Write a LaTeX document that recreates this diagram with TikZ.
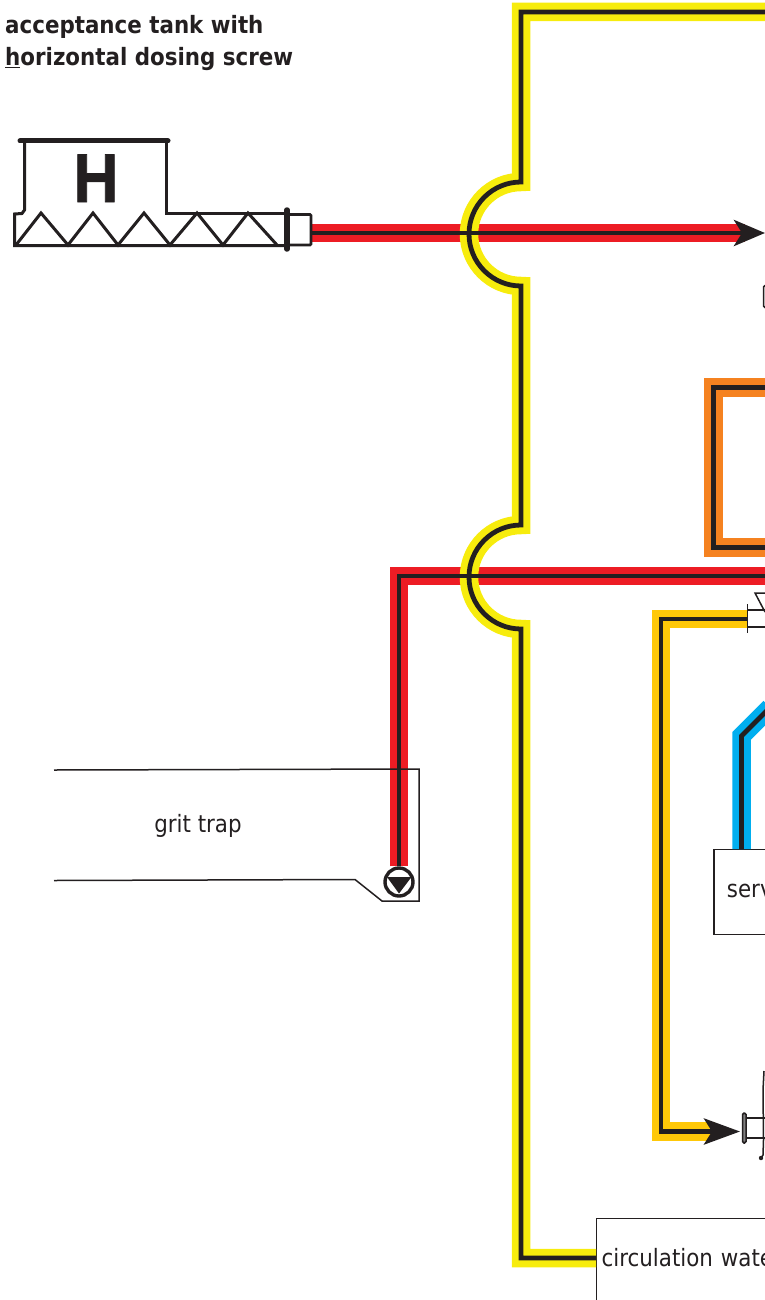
\documentclass[tikz,border=0pt]{standalone}
\usepackage{fontspec}
\setmainfont{DejaVu Sans}[FakeStretch=0.895]
\newfontfamily\tankfont{Liberation Sans}[FakeStretch=0.9, FakeBold=1.2]
\usepackage{xcolor}
\usetikzlibrary{arrows.meta, positioning, calc}
\definecolor{pipeyellow}{HTML}{F7EC0D}
\definecolor{pipered}{HTML}{ED1C24}
\definecolor{pipegold}{HTML}{FFC808}
\definecolor{pipeorange}{HTML}{F58220}
\definecolor{pipeblue}{HTML}{00AEEF}
\definecolor{inkblack}{HTML}{231F20}
%% pipe routes
\newcommand{\yellowroute}{(765,12) -- (521,12) -- (521,182)
  arc[start angle=90, end angle=270, radius=52pt] -- (521,525)
  arc[start angle=90, end angle=270, radius=52pt] -- (521,1258) -- (yellowend)}
\newcommand{\redtoproute}{(tankout) -- (redtip)}
\newcommand{\redlowroute}{(pump.north) -- (399,576) -- (765,576)}
\newcommand{\orangeroute}{(765,387.5) -- (713.5,387.5) -- (713.5,547.5) -- (765,547.5)}
\newcommand{\blueroute}{(bluestart) -- (741.5,736) -- (770,707.5)}

\begin{document}
\begin{tikzpicture}[
  x=1pt, y=-1pt,
  every node/.style={font=\fontsize{23.9}{28}\selectfont, text=inkblack},
  pipe/.style={line width=18.5pt},
  core/.style={line width=4.8pt, draw=inkblack},
  tankln/.style={draw=inkblack, line width=3pt},
  thin ln/.style={draw=inkblack, line width=1.5pt},
  box/.style={draw=inkblack, line width=1.2pt, anchor=north west, align=left},
  title/.style={anchor=base west, font=\fontsize{23.9}{28}\selectfont\bfseries},
  tip/.style={-{Stealth[length=#1, width=26pt, inset=8pt]}}
]
\useasboundingbox (0,0) rectangle (765,1300);
\clip (0,0) rectangle (765,1300);

%% titles
\node[title, inner sep=0pt] (title1) at (5,33.5) {acceptance tank with};
\node[title, inner sep=0pt] (title2) at (5,65.5) {\underline{h}orizontal dosing screw};

%% named ends
\coordinate (tankout) at (312,233);
\coordinate (redtip) at (765,233);
\coordinate (yellowend) at (596,1258);
\coordinate (flangetop) at (747.5,619);
\coordinate (goldtip) at (740,1131.5);
\coordinate (bluestart) at (741.5,849);

%% boxes
\node[box, text width=80pt, minimum height=85pt, inner xsep=13pt, text depth=2pt] (servbox) at (713.3,849) {serv};
\node[box, text width=190pt, minimum height=84pt, inner xsep=5pt, text depth=6pt] (circbox) at (596,1218) {circulation wate};
\node[circle, draw=inkblack, line width=3.4pt, minimum size=28pt, inner sep=0pt] (pump) at (399,882) {};
\fill[inkblack] (387,877) -- (411.5,877) -- (399,893.5) -- cycle;

%% red under the yellow
\draw[pipe, pipered] (tankout) -- (745,233);
\draw[pipe, pipered] \redlowroute;

%% grit trap
\draw[thin ln] (54,770) -- (419,769) -- (419,901) -- (382,901) -- (355,879.5) -- (54,880.5);
\node (grittext) at (198,826) {grit trap};

%% yellow with its crossings
\draw[pipe, pipeyellow] \yellowroute;
\draw[core] \yellowroute;

%% black of the red lines
\draw[core, tip=31pt] \redtoproute;
\draw[core] \redlowroute;

%% other pipes
\draw[pipe, pipeorange] \orangeroute;
\draw[core] \orangeroute;
\draw[pipe, pipeblue] \blueroute;
\draw[core] \blueroute;
\draw[pipe, pipegold] (flangetop) -- (661,619) -- (661,1131.5) -- (715,1131.5);
\draw[core, tip=36pt] (flangetop) -- (661,619) -- (661,1131.5) -- (goldtip);

%% acceptance tank
\draw[inkblack, line width=5pt, line cap=round] (20,141) -- (168,141);
\draw[tankln] (24.5,141) -- (24.5,210) -- (22,213.5) -- (14.5,214) -- (14.5,245.5) -- (287,245.5);
\draw[tankln] (166.5,141) -- (166.5,213) -- (287,213);
\draw[tankln] (16,245) -- (41,213) -- (68,245) -- (93,213) -- (118,245)
  -- (144,213) -- (170,245) -- (197,213) -- (223,245) -- (248,213) -- (277,245);
\draw[inkblack, line width=5.5pt, line cap=round] (287,210) -- (287,249);
\draw[tankln, line width=2.6pt, rounded corners=1pt] (288,214.5) -- (311,214.5) -- (311,245) -- (288,245);
\node[anchor=base, inner sep=0pt, font=\tankfont\fontsize{69}{69}\selectfont\bfseries] (tankH) at (96,202) {H};

%% top valve
\draw[inkblack, line width=1.8pt] (747.5,604) -- (747.5,633);
\draw[thin ln] (748,610) -- (770,610);
\draw[thin ln] (748,627) -- (770,627);
\draw[thin ln] (770,593) -- (755,593) -- (765,612);

%% lower valve
\draw[inkblack, fill=gray, line width=1.5pt, rounded corners=1.5pt] (742.5,1113) rectangle (746,1143);
\draw[inkblack, line width=1.6pt] (746,1118) -- (770,1118);
\draw[inkblack, line width=1.6pt] (746,1138) -- (770,1138);
\draw[inkblack, line width=1.5pt] (764,1071) -- (763,1090) -- (763.5,1140) -- (763,1155) -- (761,1158);
\fill[inkblack] (761,1158) circle (2.2pt);

%% edge of the part above the orange line
\draw[thin ln, rounded corners=1.5pt] (770,285.5) -- (763.5,285.5) -- (763.5,307.5) -- (770,307.5);
\end{tikzpicture}
\end{document}
